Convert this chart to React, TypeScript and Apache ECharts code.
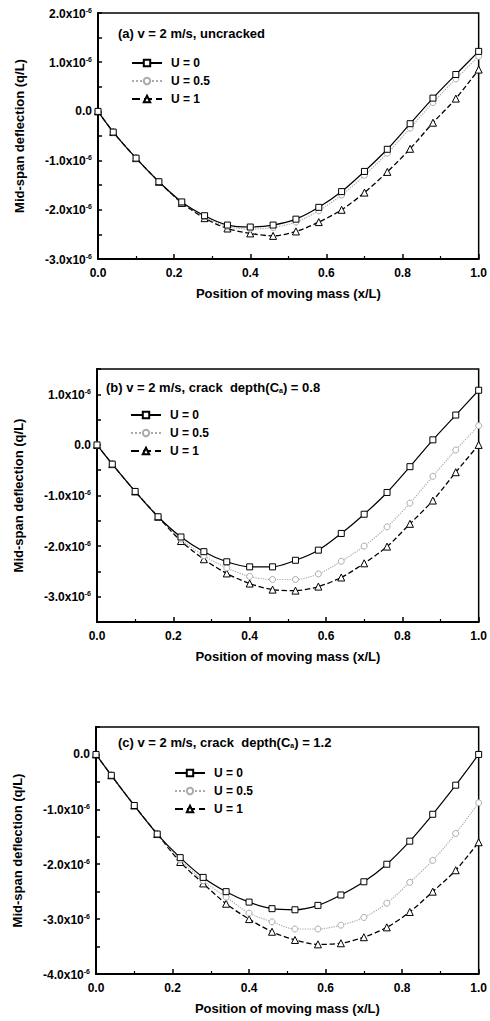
import React, { useEffect, useRef } from "react";
import * as echarts from "echarts";

const xs = [0, 0.04, 0.1, 0.16, 0.22, 0.28, 0.34, 0.4, 0.46, 0.52, 0.58, 0.64, 0.7, 0.76, 0.82, 0.88, 0.94, 1.0];
const seriesNames = ["U = 0", "U = 0.5", "U = 1"];

// values in units of 1e-6 (q/L)
const aU0 = [0, -0.42, -0.95, -1.43, -1.84, -2.12, -2.31, -2.35, -2.31, -2.19, -1.95, -1.63, -1.22, -0.77, -0.25, 0.27, 0.75, 1.22];
const aU05 = [0, -0.42, -0.95, -1.43, -1.85, -2.14, -2.34, -2.39, -2.36, -2.25, -2.02, -1.7, -1.3, -0.85, -0.34, 0.18, 0.66, 1.12];
const aU1 = [0, -0.42, -0.95, -1.43, -1.86, -2.17, -2.38, -2.48, -2.53, -2.44, -2.25, -2.0, -1.65, -1.23, -0.76, -0.23, 0.26, 0.85];

const bU0 = [0, -0.38, -0.92, -1.42, -1.82, -2.11, -2.31, -2.41, -2.41, -2.28, -2.08, -1.75, -1.37, -0.94, -0.43, 0.1, 0.59, 1.08];
const bU05 = [0, -0.38, -0.92, -1.42, -1.86, -2.19, -2.43, -2.6, -2.66, -2.66, -2.55, -2.3, -2.0, -1.62, -1.15, -0.62, -0.1, 0.38];
const bU1 = [0, -0.38, -0.92, -1.42, -1.9, -2.26, -2.54, -2.74, -2.86, -2.88, -2.8, -2.62, -2.34, -2.01, -1.56, -1.1, -0.54, 0.0];

const cU0 = [0, -0.38, -0.93, -1.45, -1.88, -2.24, -2.5, -2.69, -2.81, -2.83, -2.75, -2.56, -2.32, -2.0, -1.58, -1.09, -0.56, 0.0];
const cU05 = [0, -0.38, -0.93, -1.45, -1.92, -2.3, -2.6, -2.89, -3.05, -3.18, -3.18, -3.11, -2.97, -2.71, -2.33, -1.93, -1.44, -0.88];
const cU1 = [0, -0.38, -0.93, -1.45, -1.96, -2.35, -2.72, -3.0, -3.23, -3.38, -3.46, -3.44, -3.33, -3.15, -2.87, -2.5, -2.11, -1.6];

const panelTitles = ["(a) v = 2 m/s, uncracked", "(b) v = 2 m/s, crack  depth(C{sub|a}) = 0.8", "(c) v = 2 m/s, crack  depth(C{sub|a}) = 1.2"];
const yRanges = [
  [-3, 2],
  [-3.5, 1.5],
  [-4, 0.5],
];
const xTitle = "Position of moving mass (x/L)";
const yTitle = "Mid-span deflection (q/L)";

const FONT = "'Liberation Sans', Arial, sans-serif";

export default function App() {
  const ref = useRef<HTMLDivElement>(null);
  useEffect(() => {
    document.body.style.margin = "0";
    const chart = echarts.init(ref.current!, null, { renderer: "svg" });
    const panels = [
      [aU0, aU05, aU1],
      [bU0, bU05, bU1],
      [cU0, cU05, cU1],
    ];
    const grids = [
      { left: 98, top: 13, width: 385, height: 246 },
      { left: 97, top: 369, width: 386, height: 253 },
      { left: 96, top: 727, width: 388, height: 247 },
    ];
    const legendPos = [
      { left: 126, top: 52 },
      { left: 125, top: 404 },
      { left: 169, top: 762 },
    ];
    const titlePos = [
      { x: 118, y: 33 },
      { x: 106, y: 387 },
      { x: 118, y: 742 },
    ];

    const yLabel = (v: number) => {
      if (Math.abs(v - Math.round(v)) > 1e-6) return "";
      if (Math.abs(v) < 1e-9) return "{m|0.0}";
      return `{m|${v.toFixed(1)}x10}{s|-6}`;
    };

    const series: any[] = [];
    panels.forEach((vals, pi) => {
      vals.forEach((arr, si) => {
        const styles = [
          { symbol: "rect", color: "#000", type: "solid", width: 1.2, border: "#000" },
          { symbol: "circle", color: "#aaa", type: "dotted", width: 1.2, border: "#aaa" },
          { symbol: "triangle", color: "#000", type: "dashed", width: 1.3, border: "#000" },
        ][si];
        series.push({
          type: "line",
          name: seriesNames[si],
          xAxisIndex: pi,
          yAxisIndex: pi,
          data: xs.map((x, i) => [x, arr[i]]),
          smooth: 0.3,
          symbol: styles.symbol,
          symbolSize: si === 2 ? 7 : 6,
          showSymbol: true,
          lineStyle: { color: styles.color, type: styles.type, width: styles.width },
          itemStyle: { color: "#fff", borderColor: styles.border, borderWidth: 1 },
          z: 3 - si,
        });
      });
    });

    chart.setOption({
      animation: false,
      backgroundColor: "#fff",
      grid: grids.map((g) => ({ ...g, show: true, borderColor: "#000", borderWidth: 1.5, backgroundColor: "transparent" })),
      xAxis: grids.map((_, i) => ({
        type: "value",
        gridIndex: i,
        min: 0,
        max: 1,
        interval: 0.2,
        name: xTitle,
        nameLocation: "middle",
        nameGap: 28,
        nameTextStyle: { fontFamily: FONT, fontWeight: "bold", fontSize: 13, color: "#000" },
        axisLine: { onZero: false, lineStyle: { color: "#000", width: 2 } },
        axisTick: { inside: true, length: 5, lineStyle: { color: "#000", width: 1.5 } },
        minorTick: { show: true, splitNumber: 2, length: 3, lineStyle: { color: "#000", width: 1.2 } },
        splitLine: { show: false },
        axisLabel: {
          formatter: (v: number) => v.toFixed(1),
          fontFamily: FONT,
          fontWeight: "bold",
          fontSize: 12,
          color: "#000",
          margin: 8,
        },
      })),
      yAxis: grids.map((_, i) => ({
        type: "value",
        gridIndex: i,
        min: yRanges[i][0],
        max: yRanges[i][1],
        interval: 0.5,
        name: yTitle,
        nameLocation: "middle",
        nameGap: 72,
        nameTextStyle: { fontFamily: FONT, fontWeight: "bold", fontSize: 13, color: "#000" },
        axisLine: { onZero: false, lineStyle: { color: "#000", width: 2 } },
        axisTick: { inside: true, length: 4, lineStyle: { color: "#000", width: 1.5 } },
        splitLine: { show: false },
        axisLabel: {
          formatter: yLabel,
          margin: 6,
          color: "#000",
          rich: {
            m: { fontFamily: FONT, fontWeight: "bold", fontSize: 12, color: "#000", verticalAlign: "bottom" },
            s: { fontFamily: FONT, fontWeight: "bold", fontSize: 7, color: "#000", verticalAlign: "top", padding: [0, 0, 6, 0] },
          },
        },
      })),
      legend: legendPos.map((p) => ({
        ...p,
        orient: "vertical",
        data: seriesNames,
        itemWidth: 30,
        itemHeight: 8,
        itemGap: 6,
        selectedMode: false,
        textStyle: { fontFamily: FONT, fontWeight: "bold", fontSize: 12, color: "#000", padding: [0, 0, 0, 4] },
      })),
      graphic: titlePos.map((p, i) => ({
        type: "text",
        x: p.x,
        y: p.y,
        style: {
          text: panelTitles[i],
          fontFamily: FONT,
          fontWeight: "bold",
          fontSize: 13,
          fill: "#000",
          verticalAlign: "middle",
          rich: {
            sub: { fontFamily: FONT, fontWeight: "bold", fontSize: 7, fill: "#000", verticalAlign: "bottom", padding: [6, 0, 0, 0] },
          },
        },
      })),
      series,
    });
    return () => chart.dispose();
  }, []);
  return <div ref={ref} style={{ width: 490, height: 1021 }} />;
}
